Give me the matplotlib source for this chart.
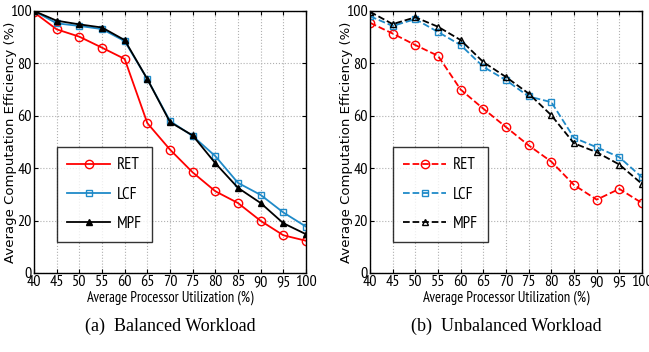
import matplotlib
matplotlib.use("Agg")
import matplotlib.pyplot as plt

util = [40, 45, 50, 55, 60, 65, 70, 75, 80, 85, 90, 95, 100]
xticks = util
yticks = [0, 20, 40, 60, 80, 100]

bal_ret = [99.5, 93.0, 90.2, 86.0, 81.7, 57.2, 47.1, 38.4, 31.2, 26.7, 19.9, 14.4, 12.3]
bal_lcf = [100.0, 95.3, 94.3, 93.1, 88.5, 74.0, 58.0, 52.3, 44.6, 34.4, 29.8, 23.1, 17.7]
bal_mpf = [100.0, 96.3, 94.9, 93.7, 88.9, 74.0, 57.6, 52.5, 41.9, 32.5, 26.7, 19.0, 14.8]

unb_ret = [95.5, 91.4, 87.0, 82.9, 70.0, 62.7, 55.7, 48.7, 42.5, 33.6, 28.0, 32.1, 26.7]
unb_lcf = [98.0, 94.3, 96.9, 92.0, 87.0, 78.7, 73.6, 67.4, 65.2, 51.6, 48.0, 44.2, 36.5]
unb_mpf = [99.7, 95.0, 97.6, 94.0, 88.9, 80.5, 74.8, 68.5, 60.2, 49.5, 46.1, 41.4, 34.0]

series_names = ["RET", "LCF", "MPF"]
captions = ["(a)  Balanced Workload", "(b)  Unbalanced Workload"]

W, H = 649, 352
fig = plt.figure(figsize=(W / 100, H / 100), dpi=100)

tf = dict(family=["PT Sans Narrow", "DejaVu Sans"])

def make_ax(left_px, data, ls, caption):
    ax = fig.add_axes([left_px / W, 1 - 273 / H, 272 / W, 262 / H])
    styles = [
        dict(color="#ff0000", marker="o", ms=6, mfc="none", mec="#ff0000"),
        dict(color="#1f8ac8", marker="s", ms=4.5, mfc="none", mec="#1f8ac8"),
        dict(color="black", marker="^", ms=5, mfc="black" if ls == "-" else "none", mec="black"),
    ]
    for vals, name, st in zip(data, series_names, styles):
        ax.plot(util, vals, linestyle=ls, lw=1.3, label=name, mew=1.0, **st)
    ax.set_xlim(40, 100)
    ax.set_ylim(0, 100)
    ax.set_xticks(xticks)
    ax.set_yticks(yticks)
    ax.set_xticklabels([str(v) for v in xticks], fontsize=11.5, **tf)
    ax.set_yticklabels([str(v) for v in yticks], fontsize=11.5, **tf)
    ax.tick_params(direction="in", length=3, top=True, right=True, pad=1.5)
    ax.grid(True, linestyle=":", color="#b0b0b0", lw=0.8)
    for s in ax.spines.values():
        s.set_linewidth(1.0)
    ax.set_xlabel("Average Processor Utilization (%)", fontsize=10.5, labelpad=1, **tf)
    ax.set_ylabel("Average Computation Efficiency (%)", fontsize=9.5)
    ax.yaxis.set_label_coords(-0.062, 0.5)
    leg = ax.legend(loc="lower left", bbox_to_anchor=(0.085, 0.118), borderaxespad=0,
                    prop=dict(size=12, **tf), frameon=True, fancybox=False,
                    edgecolor="black", borderpad=0.6, labelspacing=0.8,
                    handlelength=2.6, handletextpad=0.4)
    leg.get_frame().set_linewidth(1.0)
    fig.text((left_px + 136) / W, 1 - 326 / H, caption, ha="center", va="center",
             fontsize=13, family="Liberation Serif")
    return ax

make_ax(34, [bal_ret, bal_lcf, bal_mpf], "-", captions[0])
make_ax(370, [unb_ret, unb_lcf, unb_mpf], "--", captions[1])

fig.savefig("out.png", dpi=100)
